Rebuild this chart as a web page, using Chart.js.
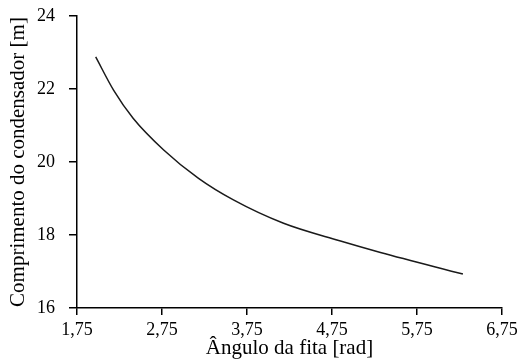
<!DOCTYPE html>
<html>
<head>
<meta charset="utf-8">
<script src="https://cdn.jsdelivr.net/npm/chart.js@4"></script>
<style>
html,body{margin:0;padding:0;background:#fff;}
#c{display:block;}
</style>
</head>
<body>
<canvas id="c" width="521" height="361"></canvas>
<script>
// Data
const angle = [1.97, 2.18, 2.41, 2.77, 3.18, 3.59, 4.18, 4.84, 5.32, 6.29];
const length = [22.88, 21.97, 21.20, 20.33, 19.55, 18.96, 18.32, 17.84, 17.52, 16.93];
const xTickValues = [1.75, 2.75, 3.75, 4.75, 5.75, 6.75];
const yTickValues = [16, 18, 20, 22, 24];
const xTitle = 'Ângulo da fita [rad]';
const yTitle = 'Comprimento do condensador [m]';

const points = angle.map((x, i) => ({x: x, y: length[i]}));
const FONT = 'Liberation Serif, Times New Roman, serif';

new Chart(document.getElementById('c'), {
  type: 'scatter',
  data: {
    datasets: [{
      data: points,
      showLine: true,
      borderColor: '#1a1a1a',
      borderWidth: 1.5,
      pointRadius: 0,
      cubicInterpolationMode: 'monotone',
      fill: false
    }]
  },
  options: {
    responsive: false,
    animation: false,
    devicePixelRatio: 1,
    layout: {padding: {left: 4, top: 16, right: 19, bottom: 0}},
    plugins: {legend: {display: false}, tooltip: {enabled: false}},
    scales: {
      x: {
        type: 'linear',
        min: 1.75, max: 6.75,
        afterBuildTicks: s => { s.ticks = xTickValues.map(v => ({value: v})); },
        afterFit: s => { s.height = 53; s.paddingLeft = 0; s.paddingRight = 0; },
        ticks: {
          color: '#000',
          font: {family: FONT, size: 18},
          padding: 4,
          maxRotation: 0,
          autoSkip: false,
          callback: v => v.toFixed(2).replace('.', ',')
        },
        grid: {display: true, drawOnChartArea: false, drawTicks: true, tickLength: 7, color: '#000', lineWidth: 1.5},
        border: {display: true, color: '#000', width: 1.5},
        title: {display: true, text: xTitle, color: '#000', font: {family: FONT, size: 21}, padding: {top: 0, bottom: 0}}
      },
      y: {
        type: 'linear',
        min: 16, max: 24,
        afterBuildTicks: s => { s.ticks = yTickValues.map(v => ({value: v})); },
        afterFit: s => { s.width = 73; s.paddingTop = 0; s.paddingBottom = 0; },
        ticks: {
          color: '#000',
          font: {family: FONT, size: 18},
          padding: 14,
          autoSkip: false,
          callback: v => String(v)
        },
        grid: {display: true, drawOnChartArea: false, drawTicks: true, tickLength: 8, color: '#000', lineWidth: 1.5},
        border: {display: true, color: '#000', width: 1.5},
        title: {display: true, text: yTitle, color: '#000', font: {family: FONT, size: 21}, padding: {top: 2, bottom: 0}}
      }
    }
  }
});
</script>
</body>
</html>
